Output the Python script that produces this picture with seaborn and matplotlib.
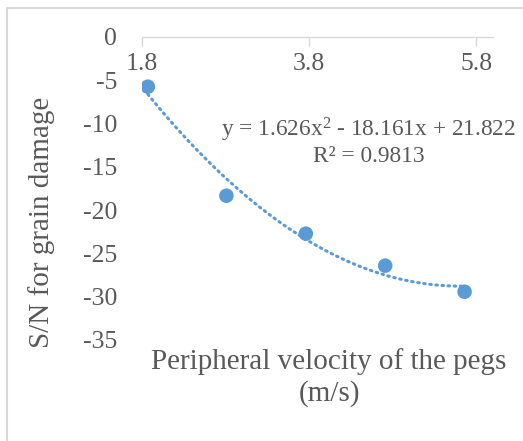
import numpy as np
import pandas as pd
import matplotlib
matplotlib.use("Agg")
import matplotlib.pyplot as plt
from matplotlib.patches import Rectangle
import seaborn as sns

# Data
velocity = [1.87, 2.81, 3.76, 4.71, 5.66]
sn_ratio = [-5.77, -18.35, -22.73, -26.42, -29.43]
x_ticks = [1.8, 3.8, 5.8]
y_ticks = [0, -5, -10, -15, -20, -25, -30, -35]
equation_text = "y = 1.626x$^2$ - 18.161x + 21.822"
r2_text = "R² = 0.9813"
x_label = "Peripheral velocity of the pegs\n(m/s)"
y_label = "S/N for grain damage"

df = pd.DataFrame({"v": velocity, "sn": sn_ratio})

sns.set_style("white")
plt.rcParams["font.family"] = ["Liberation Serif", "DejaVu Serif"]
plt.rcParams["mathtext.fontset"] = "custom"
plt.rcParams["mathtext.rm"] = "Liberation Serif"
plt.rcParams["mathtext.it"] = "Liberation Serif"

TEXT = "#595959"
GRID = "#D9D9D9"
BLUE = "#5B9BD5"

fig = plt.figure(figsize=(5.23, 4.41), dpi=100)
ax = fig.add_axes([142 / 523, 1 - 340 / 441, 351 / 523, (340 - 36.7) / 441])

sns.regplot(data=df, x="v", y="sn", order=2, ci=None, ax=ax,
            scatter_kws=dict(s=110, color=BLUE, edgecolor="none", alpha=1, zorder=3),
            line_kws=dict(color=BLUE, linewidth=2.2, linestyle=(0, (0.5, 1.5)),
                          dash_capstyle="round", zorder=2))

ax.set_xlim(1.8, 6.0)
ax.set_ylim(-35, 0)
ax.set_xticks(x_ticks)
ax.set_xticklabels([f"{t:.1f}" for t in x_ticks])
ax.set_yticks(y_ticks)
ax.set_yticklabels([f"{t:d}" for t in y_ticks])

for s in ["left", "right", "top"]:
    ax.spines[s].set_visible(False)
ax.spines["bottom"].set_position(("data", 0))
ax.spines["bottom"].set_color(GRID)
ax.spines["bottom"].set_linewidth(1.0)

ax.tick_params(axis="x", direction="out", length=6.5, width=1.0, color=GRID,
               labelcolor=TEXT, labelsize=18.5, pad=5.5, bottom=True)
ax.tick_params(axis="y", length=0, labelcolor=TEXT, labelsize=18.5, pad=18)

ax.set_xlabel(x_label, fontsize=21, color=TEXT, linespacing=1.2)
ax.xaxis.label.set_va("center")
ax.xaxis.set_label_coords((329 - 142) / 351, (340 - 377.5) / 303.3)
ax.set_ylabel(y_label, fontsize=21, color=TEXT)
ax.yaxis.label.set_va("center")
ax.yaxis.set_label_coords((42 - 142) / 351, (340 - 222.5) / 303.3)

ax.text((369 - 142) / 351, (340 - 130) / 303.3, equation_text, transform=ax.transAxes,
        ha="center", va="center", fontsize=16.8, color=TEXT)
ax.text((369 - 142) / 351, (340 - 157) / 303.3, r2_text, transform=ax.transAxes,
        ha="center", va="center", fontsize=16.8, color=TEXT)

fig.patches.append(Rectangle((7 / 523, -0.1), 1.2, 1 - 8 / 441 + 0.1,
                             transform=fig.transFigure, fill=False,
                             edgecolor=GRID, linewidth=1.5, zorder=0))

fig.savefig("out.png", dpi=100)
